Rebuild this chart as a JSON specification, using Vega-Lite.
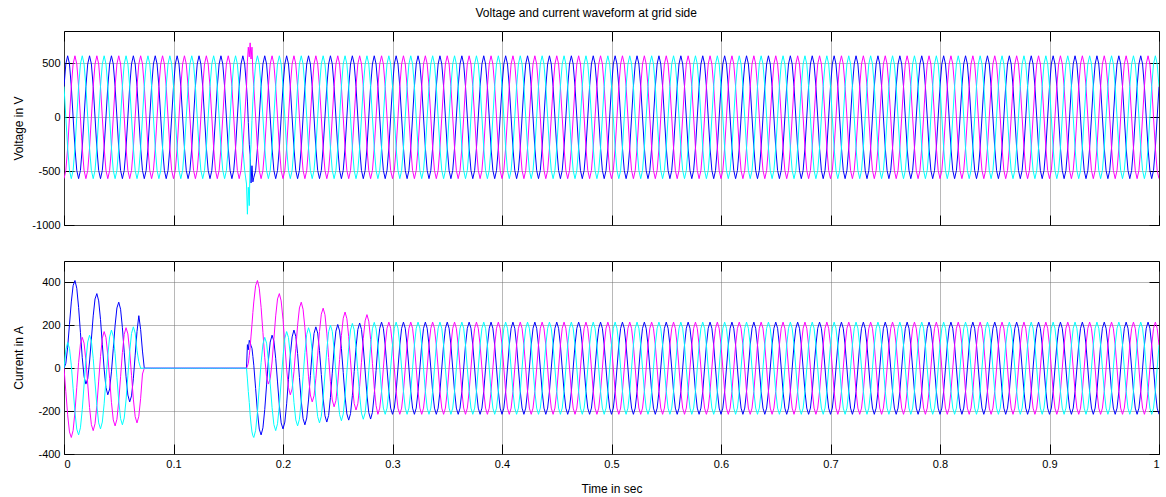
{
"$schema":"https://vega.github.io/schema/vega-lite/v6.json",
"padding":{"left":12,"top":7,"right":5,"bottom":5},
"title":{"text":"Voltage and current waveform at grid side","font":"Liberation Sans","fontSize":12,"fontWeight":"normal","color":"#000","offset":10,"anchor":"middle"},
"config":{
"view":{"stroke":"#000","strokeWidth":1},
"axis":{"labelFont":"Liberation Sans","labelFontSize":11,"labelColor":"#000","titleFont":"Liberation Sans","titleFontSize":12,"titleFontWeight":"normal","titleColor":"#000","domain":false,"tickColor":"#000","tickSize":-10,"tickWidth":1,"labelPadding":14,"gridColor":"#707070","gridDash":[1,1],"gridWidth":1,"labelExpr":"'' + datum.value"}
},
"data":{"values":[
{"t":0,"a":285,"b":-570,"c":285,"x":0,"y":0,"z":0},
{"t":0.00167,"a":494,"b":-494,"c":0,"x":23,"y":-109,"z":86},
{"t":0.00333,"a":570,"b":-285,"c":-285,"x":98,"y":-217,"z":120},
{"t":0.005,"a":494,"b":0,"c":-494,"x":204,"y":-297,"z":93},
{"t":0.00667,"a":285,"b":285,"c":-570,"x":309,"y":-323,"z":14},
{"t":0.00833,"a":0,"b":494,"c":-494,"x":385,"y":-290,"z":-95},
{"t":0.01,"a":-285,"b":570,"c":-285,"x":409,"y":-204,"z":-204},
{"t":0.01167,"a":-494,"b":494,"c":0,"x":373,"y":-89,"z":-284},
{"t":0.01333,"a":-570,"b":285,"c":285,"x":284,"y":26,"z":-311},
{"t":0.015,"a":-494,"b":0,"c":494,"x":167,"y":112,"z":-278},
{"t":0.01667,"a":-285,"b":-285,"c":570,"x":49,"y":144,"z":-193},
{"t":0.01833,"a":0,"b":-494,"c":494,"x":-39,"y":117,"z":-78},
{"t":0.02,"a":285,"b":-570,"c":285,"x":-74,"y":37,"z":37},
{"t":0.02167,"a":494,"b":-494,"c":0,"x":-49,"y":-73,"z":122},
{"t":0.02333,"a":570,"b":-285,"c":-285,"x":29,"y":-183,"z":154},
{"t":0.025,"a":494,"b":0,"c":-494,"x":136,"y":-263,"z":127},
{"t":0.02667,"a":285,"b":285,"c":-570,"x":244,"y":-291,"z":46},
{"t":0.02833,"a":0,"b":494,"c":-494,"x":323,"y":-259,"z":-64},
{"t":0.03,"a":-285,"b":570,"c":-285,"x":348,"y":-174,"z":-174},
{"t":0.03167,"a":-494,"b":494,"c":0,"x":314,"y":-60,"z":-255},
{"t":0.03333,"a":-570,"b":285,"c":285,"x":228,"y":54,"z":-283},
{"t":0.035,"a":-494,"b":0,"c":494,"x":112,"y":139,"z":-251},
{"t":0.03667,"a":-285,"b":-285,"c":570,"x":-4,"y":171,"z":-166},
{"t":0.03833,"a":0,"b":-494,"c":494,"x":-90,"y":143,"z":-52},
{"t":0.04,"a":285,"b":-570,"c":285,"x":-124,"y":61,"z":61},
{"t":0.04167,"a":494,"b":-494,"c":0,"x":-97,"y":-49,"z":146},
{"t":0.04333,"a":570,"b":-285,"c":-285,"x":-17,"y":-159,"z":178},
{"t":0.045,"a":494,"b":0,"c":-494,"x":91,"y":-241,"z":149},
{"t":0.04667,"a":285,"b":285,"c":-570,"x":200,"y":-269,"z":68},
{"t":0.04833,"a":0,"b":494,"c":-494,"x":281,"y":-238,"z":-43},
{"t":0.05,"a":-285,"b":570,"c":-285,"x":308,"y":-153,"z":-153},
{"t":0.05167,"a":-494,"b":494,"c":0,"x":275,"y":-40,"z":-235},
{"t":0.05333,"a":-570,"b":285,"c":285,"x":189,"y":73,"z":-264},
{"t":0.055,"a":-494,"b":0,"c":494,"x":75,"y":158,"z":-232},
{"t":0.05667,"a":-285,"b":-285,"c":570,"x":-40,"y":189,"z":-148},
{"t":0.05833,"a":0,"b":-494,"c":494,"x":-125,"y":160,"z":-35},
{"t":0.06,"a":285,"b":-570,"c":285,"x":-157,"y":78,"z":78},
{"t":0.06167,"a":494,"b":-494,"c":0,"x":-129,"y":-33,"z":162},
{"t":0.06333,"a":570,"b":-285,"c":-285,"x":-49,"y":-144,"z":193},
{"t":0.065,"a":494,"b":0,"c":-494,"x":61,"y":-226,"z":164},
{"t":0.06667,"a":285,"b":285,"c":-570,"x":171,"y":-255,"z":82},
{"t":0.06833,"a":0,"b":494,"c":-494,"x":245,"y":-224,"z":30},
{"t":0.07,"a":-285,"b":570,"c":-285,"x":180,"y":-140,"z":0},
{"t":0.07167,"a":-494,"b":494,"c":0,"x":80,"y":-27,"z":0},
{"t":0.07333,"a":-570,"b":285,"c":285,"x":0,"y":0,"z":0},
{"t":0.075,"a":-494,"b":0,"c":494,"x":0,"y":0,"z":0},
{"t":0.07667,"a":-285,"b":-285,"c":570,"x":0,"y":0,"z":0},
{"t":0.07833,"a":0,"b":-494,"c":494,"x":0,"y":0,"z":0},
{"t":0.08,"a":285,"b":-570,"c":285,"x":0,"y":0,"z":0},
{"t":0.08167,"a":494,"b":-494,"c":0,"x":0,"y":0,"z":0},
{"t":0.08333,"a":570,"b":-285,"c":-285,"x":0,"y":0,"z":0},
{"t":0.085,"a":494,"b":0,"c":-494,"x":0,"y":0,"z":0},
{"t":0.08667,"a":285,"b":285,"c":-570,"x":0,"y":0,"z":0},
{"t":0.08833,"a":0,"b":494,"c":-494,"x":0,"y":0,"z":0},
{"t":0.09,"a":-285,"b":570,"c":-285,"x":0,"y":0,"z":0},
{"t":0.09167,"a":-494,"b":494,"c":0,"x":0,"y":0,"z":0},
{"t":0.09333,"a":-570,"b":285,"c":285,"x":0,"y":0,"z":0},
{"t":0.095,"a":-494,"b":0,"c":494,"x":0,"y":0,"z":0},
{"t":0.09667,"a":-285,"b":-285,"c":570,"x":0,"y":0,"z":0},
{"t":0.09833,"a":0,"b":-494,"c":494,"x":0,"y":0,"z":0},
{"t":0.1,"a":285,"b":-570,"c":285,"x":0,"y":0,"z":0},
{"t":0.10167,"a":494,"b":-494,"c":0,"x":0,"y":0,"z":0},
{"t":0.10333,"a":570,"b":-285,"c":-285,"x":0,"y":0,"z":0},
{"t":0.105,"a":494,"b":0,"c":-494,"x":0,"y":0,"z":0},
{"t":0.10667,"a":285,"b":285,"c":-570,"x":0,"y":0,"z":0},
{"t":0.10833,"a":0,"b":494,"c":-494,"x":0,"y":0,"z":0},
{"t":0.11,"a":-285,"b":570,"c":-285,"x":0,"y":0,"z":0},
{"t":0.11167,"a":-494,"b":494,"c":0,"x":0,"y":0,"z":0},
{"t":0.11333,"a":-570,"b":285,"c":285,"x":0,"y":0,"z":0},
{"t":0.115,"a":-494,"b":0,"c":494,"x":0,"y":0,"z":0},
{"t":0.11667,"a":-285,"b":-285,"c":570,"x":0,"y":0,"z":0},
{"t":0.11833,"a":0,"b":-494,"c":494,"x":0,"y":0,"z":0},
{"t":0.12,"a":285,"b":-570,"c":285,"x":0,"y":0,"z":0},
{"t":0.12167,"a":494,"b":-494,"c":0,"x":0,"y":0,"z":0},
{"t":0.12333,"a":570,"b":-285,"c":-285,"x":0,"y":0,"z":0},
{"t":0.125,"a":494,"b":0,"c":-494,"x":0,"y":0,"z":0},
{"t":0.12667,"a":285,"b":285,"c":-570,"x":0,"y":0,"z":0},
{"t":0.12833,"a":0,"b":494,"c":-494,"x":0,"y":0,"z":0},
{"t":0.13,"a":-285,"b":570,"c":-285,"x":0,"y":0,"z":0},
{"t":0.13167,"a":-494,"b":494,"c":0,"x":0,"y":0,"z":0},
{"t":0.13333,"a":-570,"b":285,"c":285,"x":0,"y":0,"z":0},
{"t":0.135,"a":-494,"b":0,"c":494,"x":0,"y":0,"z":0},
{"t":0.13667,"a":-285,"b":-285,"c":570,"x":0,"y":0,"z":0},
{"t":0.13833,"a":0,"b":-494,"c":494,"x":0,"y":0,"z":0},
{"t":0.14,"a":285,"b":-570,"c":285,"x":0,"y":0,"z":0},
{"t":0.14167,"a":494,"b":-494,"c":0,"x":0,"y":0,"z":0},
{"t":0.14333,"a":570,"b":-285,"c":-285,"x":0,"y":0,"z":0},
{"t":0.145,"a":494,"b":0,"c":-494,"x":0,"y":0,"z":0},
{"t":0.14667,"a":285,"b":285,"c":-570,"x":0,"y":0,"z":0},
{"t":0.14833,"a":0,"b":494,"c":-494,"x":0,"y":0,"z":0},
{"t":0.15,"a":-285,"b":570,"c":-285,"x":0,"y":0,"z":0},
{"t":0.15167,"a":-494,"b":494,"c":0,"x":0,"y":0,"z":0},
{"t":0.15333,"a":-570,"b":285,"c":285,"x":0,"y":0,"z":0},
{"t":0.155,"a":-494,"b":0,"c":494,"x":0,"y":0,"z":0},
{"t":0.15667,"a":-285,"b":-285,"c":570,"x":0,"y":0,"z":0},
{"t":0.15833,"a":0,"b":-494,"c":494,"x":0,"y":0,"z":0},
{"t":0.16,"a":285,"b":-570,"c":285,"x":0,"y":0,"z":0},
{"t":0.16167,"a":494,"b":-494,"c":0,"x":0,"y":0,"z":0},
{"t":0.16333,"a":570,"b":-285,"c":-285,"x":0,"y":0,"z":0},
{"t":0.165,"a":494,"b":0,"c":-494,"x":0,"y":0,"z":0},
{"t":0.16667,"a":285,"b":285,"c":-620,"x":0,"y":0,"z":0},
{"t":0.1675,"a":150,"b":520,"c":-900,"x":110,"y":10,"z":-50},
{"t":0.16833,"a":-50,"b":650,"c":-650,"x":86,"y":23,"z":-109},
{"t":0.1692,"a":-250,"b":560,"c":-820,"x":130,"y":60,"z":-160},
{"t":0.17,"a":-350,"b":690,"c":-400,"x":120,"y":98,"z":-217},
{"t":0.1708,"a":-610,"b":540,"c":-250,"x":105,"y":150,"z":-260},
{"t":0.17167,"a":-450,"b":650,"c":-30,"x":93,"y":204,"z":-297},
{"t":0.1725,"a":-600,"b":420,"c":150,"x":55,"y":260,"z":-315},
{"t":0.17333,"a":-560,"b":285,"c":285,"x":14,"y":309,"z":-323},
{"t":0.175,"a":-494,"b":0,"c":494,"x":-95,"y":385,"z":-290},
{"t":0.17667,"a":-285,"b":-285,"c":570,"x":-204,"y":409,"z":-204},
{"t":0.17833,"a":0,"b":-494,"c":494,"x":-284,"y":373,"z":-89},
{"t":0.18,"a":285,"b":-570,"c":285,"x":-311,"y":284,"z":26},
{"t":0.18167,"a":494,"b":-494,"c":0,"x":-278,"y":167,"z":112},
{"t":0.18333,"a":570,"b":-285,"c":-285,"x":-193,"y":49,"z":144},
{"t":0.185,"a":494,"b":0,"c":-494,"x":-78,"y":-39,"z":117},
{"t":0.18667,"a":285,"b":285,"c":-570,"x":37,"y":-74,"z":37},
{"t":0.18833,"a":0,"b":494,"c":-494,"x":122,"y":-49,"z":-73},
{"t":0.19,"a":-285,"b":570,"c":-285,"x":154,"y":29,"z":-183},
{"t":0.19167,"a":-494,"b":494,"c":0,"x":127,"y":136,"z":-263},
{"t":0.19333,"a":-570,"b":285,"c":285,"x":46,"y":244,"z":-291},
{"t":0.195,"a":-494,"b":0,"c":494,"x":-64,"y":323,"z":-259},
{"t":0.19667,"a":-285,"b":-285,"c":570,"x":-174,"y":348,"z":-174},
{"t":0.19833,"a":0,"b":-494,"c":494,"x":-255,"y":314,"z":-60},
{"t":0.2,"a":285,"b":-570,"c":285,"x":-283,"y":228,"z":54},
{"t":0.20167,"a":494,"b":-494,"c":0,"x":-251,"y":112,"z":139},
{"t":0.20333,"a":570,"b":-285,"c":-285,"x":-166,"y":-4,"z":171},
{"t":0.205,"a":494,"b":0,"c":-494,"x":-52,"y":-90,"z":143},
{"t":0.20667,"a":285,"b":285,"c":-570,"x":61,"y":-124,"z":61},
{"t":0.20833,"a":0,"b":494,"c":-494,"x":146,"y":-97,"z":-49},
{"t":0.21,"a":-285,"b":570,"c":-285,"x":178,"y":-17,"z":-159},
{"t":0.21167,"a":-494,"b":494,"c":0,"x":149,"y":91,"z":-241},
{"t":0.21333,"a":-570,"b":285,"c":285,"x":68,"y":200,"z":-269},
{"t":0.215,"a":-494,"b":0,"c":494,"x":-43,"y":281,"z":-238},
{"t":0.21667,"a":-285,"b":-285,"c":570,"x":-153,"y":308,"z":-153},
{"t":0.21833,"a":0,"b":-494,"c":494,"x":-235,"y":275,"z":-40},
{"t":0.22,"a":285,"b":-570,"c":285,"x":-264,"y":189,"z":73},
{"t":0.22167,"a":494,"b":-494,"c":0,"x":-232,"y":75,"z":158},
{"t":0.22333,"a":570,"b":-285,"c":-285,"x":-148,"y":-40,"z":189},
{"t":0.225,"a":494,"b":0,"c":-494,"x":-35,"y":-125,"z":160},
{"t":0.22667,"a":285,"b":285,"c":-570,"x":78,"y":-157,"z":78},
{"t":0.22833,"a":0,"b":494,"c":-494,"x":162,"y":-129,"z":-33},
{"t":0.23,"a":-285,"b":570,"c":-285,"x":193,"y":-49,"z":-144},
{"t":0.23167,"a":-494,"b":494,"c":0,"x":164,"y":61,"z":-226},
{"t":0.23333,"a":-570,"b":285,"c":285,"x":82,"y":171,"z":-255},
{"t":0.235,"a":-494,"b":0,"c":494,"x":-29,"y":252,"z":-224},
{"t":0.23667,"a":-285,"b":-285,"c":570,"x":-140,"y":280,"z":-140},
{"t":0.23833,"a":0,"b":-494,"c":494,"x":-222,"y":249,"z":-27},
{"t":0.24,"a":285,"b":-570,"c":285,"x":-251,"y":164,"z":86},
{"t":0.24167,"a":494,"b":-494,"c":0,"x":-220,"y":50,"z":170},
{"t":0.24333,"a":570,"b":-285,"c":-285,"x":-136,"y":-63,"z":201},
{"t":0.245,"a":494,"b":0,"c":-494,"x":-23,"y":-148,"z":172},
{"t":0.24667,"a":285,"b":285,"c":-570,"x":89,"y":-180,"z":89},
{"t":0.24833,"a":0,"b":494,"c":-494,"x":173,"y":-151,"z":-22},
{"t":0.25,"a":-285,"b":570,"c":-285,"x":204,"y":-69,"z":-133},
{"t":0.25167,"a":-494,"b":494,"c":0,"x":174,"y":41,"z":-216},
{"t":0.25333,"a":-570,"b":285,"c":285,"x":92,"y":152,"z":-245},
{"t":0.255,"a":-494,"b":0,"c":494,"x":-19,"y":233,"z":-214},
{"t":0.25667,"a":-285,"b":-285,"c":570,"x":-131,"y":262,"z":-131},
{"t":0.25833,"a":0,"b":-494,"c":494,"x":-213,"y":231,"z":-18},
{"t":0.26,"a":285,"b":-570,"c":285,"x":-242,"y":147,"z":95},
{"t":0.26167,"a":494,"b":-494,"c":0,"x":-212,"y":34,"z":178},
{"t":0.26333,"a":570,"b":-285,"c":-285,"x":-128,"y":-79,"z":209},
{"t":0.265,"a":494,"b":0,"c":-494,"x":-16,"y":-164,"z":179},
{"t":0.26667,"a":285,"b":285,"c":-570,"x":97,"y":-195,"z":97},
{"t":0.26833,"a":0,"b":494,"c":-494,"x":180,"y":-166,"z":-15},
{"t":0.27,"a":-285,"b":570,"c":-285,"x":211,"y":-84,"z":-126},
{"t":0.27167,"a":-494,"b":494,"c":0,"x":181,"y":28,"z":-209},
{"t":0.27333,"a":-570,"b":285,"c":285,"x":99,"y":139,"z":-238},
{"t":0.275,"a":-494,"b":0,"c":494,"x":-13,"y":221,"z":-208},
{"t":0.27667,"a":-285,"b":-285,"c":570,"x":-124,"y":250,"z":-124},
{"t":0.27833,"a":0,"b":-494,"c":494,"x":-207,"y":219,"z":-12},
{"t":0.28,"a":285,"b":-570,"c":285,"x":-237,"y":135,"z":100},
{"t":0.28167,"a":494,"b":-494,"c":0,"x":-206,"y":23,"z":184},
{"t":0.28333,"a":570,"b":-285,"c":-285,"x":-123,"y":-90,"z":214},
{"t":0.285,"a":494,"b":0,"c":-494,"x":-11,"y":-174,"z":184},
{"t":0.28667,"a":285,"b":285,"c":-570,"x":108,"y":-215,"z":108},
{"t":0.28833,"a":0,"b":494,"c":-494,"x":186,"y":-186,"z":0},
{"t":0.29,"a":-285,"b":570,"c":-285,"x":215,"y":-108,"z":-108},
{"t":0.29167,"a":-494,"b":494,"c":0,"x":186,"y":0,"z":-186},
{"t":0.29333,"a":-570,"b":285,"c":285,"x":108,"y":108,"z":-215},
{"t":0.295,"a":-494,"b":0,"c":494,"x":0,"y":186,"z":-186},
{"t":0.29667,"a":-285,"b":-285,"c":570,"x":-108,"y":215,"z":-108},
{"t":0.29833,"a":0,"b":-494,"c":494,"x":-186,"y":186,"z":0},
{"t":0.3,"a":285,"b":-570,"c":285,"x":-215,"y":108,"z":108},
{"t":0.30167,"a":494,"b":-494,"c":0,"x":-186,"y":0,"z":186},
{"t":0.30333,"a":570,"b":-285,"c":-285,"x":-108,"y":-108,"z":215},
{"t":0.305,"a":494,"b":0,"c":-494,"x":0,"y":-186,"z":186},
{"t":0.30667,"a":285,"b":285,"c":-570,"x":108,"y":-215,"z":108},
{"t":0.30833,"a":0,"b":494,"c":-494,"x":186,"y":-186,"z":0},
{"t":0.31,"a":-285,"b":570,"c":-285,"x":215,"y":-108,"z":-108},
{"t":0.31167,"a":-494,"b":494,"c":0,"x":186,"y":0,"z":-186},
{"t":0.31333,"a":-570,"b":285,"c":285,"x":108,"y":108,"z":-215},
{"t":0.315,"a":-494,"b":0,"c":494,"x":0,"y":186,"z":-186},
{"t":0.31667,"a":-285,"b":-285,"c":570,"x":-108,"y":215,"z":-108},
{"t":0.31833,"a":0,"b":-494,"c":494,"x":-186,"y":186,"z":0},
{"t":0.32,"a":285,"b":-570,"c":285,"x":-215,"y":108,"z":108},
{"t":0.32167,"a":494,"b":-494,"c":0,"x":-186,"y":0,"z":186},
{"t":0.32333,"a":570,"b":-285,"c":-285,"x":-108,"y":-108,"z":215},
{"t":0.325,"a":494,"b":0,"c":-494,"x":0,"y":-186,"z":186},
{"t":0.32667,"a":285,"b":285,"c":-570,"x":108,"y":-215,"z":108},
{"t":0.32833,"a":0,"b":494,"c":-494,"x":186,"y":-186,"z":0},
{"t":0.33,"a":-285,"b":570,"c":-285,"x":215,"y":-108,"z":-108},
{"t":0.33167,"a":-494,"b":494,"c":0,"x":186,"y":0,"z":-186},
{"t":0.33333,"a":-570,"b":285,"c":285,"x":108,"y":108,"z":-215},
{"t":0.335,"a":-494,"b":0,"c":494,"x":0,"y":186,"z":-186},
{"t":0.33667,"a":-285,"b":-285,"c":570,"x":-108,"y":215,"z":-108},
{"t":0.33833,"a":0,"b":-494,"c":494,"x":-186,"y":186,"z":0},
{"t":0.34,"a":285,"b":-570,"c":285,"x":-215,"y":108,"z":108},
{"t":0.34167,"a":494,"b":-494,"c":0,"x":-186,"y":0,"z":186},
{"t":0.34333,"a":570,"b":-285,"c":-285,"x":-108,"y":-108,"z":215},
{"t":0.345,"a":494,"b":0,"c":-494,"x":0,"y":-186,"z":186},
{"t":0.34667,"a":285,"b":285,"c":-570,"x":108,"y":-215,"z":108},
{"t":0.34833,"a":0,"b":494,"c":-494,"x":186,"y":-186,"z":0},
{"t":0.35,"a":-285,"b":570,"c":-285,"x":215,"y":-108,"z":-108},
{"t":0.35167,"a":-494,"b":494,"c":0,"x":186,"y":0,"z":-186},
{"t":0.35333,"a":-570,"b":285,"c":285,"x":108,"y":108,"z":-215},
{"t":0.355,"a":-494,"b":0,"c":494,"x":0,"y":186,"z":-186},
{"t":0.35667,"a":-285,"b":-285,"c":570,"x":-108,"y":215,"z":-108},
{"t":0.35833,"a":0,"b":-494,"c":494,"x":-186,"y":186,"z":0},
{"t":0.36,"a":285,"b":-570,"c":285,"x":-215,"y":108,"z":108},
{"t":0.36167,"a":494,"b":-494,"c":0,"x":-186,"y":0,"z":186},
{"t":0.36333,"a":570,"b":-285,"c":-285,"x":-108,"y":-108,"z":215},
{"t":0.365,"a":494,"b":0,"c":-494,"x":0,"y":-186,"z":186},
{"t":0.36667,"a":285,"b":285,"c":-570,"x":108,"y":-215,"z":108},
{"t":0.36833,"a":0,"b":494,"c":-494,"x":186,"y":-186,"z":0},
{"t":0.37,"a":-285,"b":570,"c":-285,"x":215,"y":-108,"z":-108},
{"t":0.37167,"a":-494,"b":494,"c":0,"x":186,"y":0,"z":-186},
{"t":0.37333,"a":-570,"b":285,"c":285,"x":108,"y":108,"z":-215},
{"t":0.375,"a":-494,"b":0,"c":494,"x":0,"y":186,"z":-186},
{"t":0.37667,"a":-285,"b":-285,"c":570,"x":-108,"y":215,"z":-108},
{"t":0.37833,"a":0,"b":-494,"c":494,"x":-186,"y":186,"z":0},
{"t":0.38,"a":285,"b":-570,"c":285,"x":-215,"y":108,"z":108},
{"t":0.38167,"a":494,"b":-494,"c":0,"x":-186,"y":0,"z":186},
{"t":0.38333,"a":570,"b":-285,"c":-285,"x":-108,"y":-108,"z":215},
{"t":0.385,"a":494,"b":0,"c":-494,"x":0,"y":-186,"z":186},
{"t":0.38667,"a":285,"b":285,"c":-570,"x":108,"y":-215,"z":108},
{"t":0.38833,"a":0,"b":494,"c":-494,"x":186,"y":-186,"z":0},
{"t":0.39,"a":-285,"b":570,"c":-285,"x":215,"y":-108,"z":-108},
{"t":0.39167,"a":-494,"b":494,"c":0,"x":186,"y":0,"z":-186},
{"t":0.39333,"a":-570,"b":285,"c":285,"x":108,"y":108,"z":-215},
{"t":0.395,"a":-494,"b":0,"c":494,"x":0,"y":186,"z":-186},
{"t":0.39667,"a":-285,"b":-285,"c":570,"x":-108,"y":215,"z":-108},
{"t":0.39833,"a":0,"b":-494,"c":494,"x":-186,"y":186,"z":0},
{"t":0.4,"a":285,"b":-570,"c":285,"x":-215,"y":108,"z":108},
{"t":0.40167,"a":494,"b":-494,"c":0,"x":-186,"y":0,"z":186},
{"t":0.40333,"a":570,"b":-285,"c":-285,"x":-108,"y":-108,"z":215},
{"t":0.405,"a":494,"b":0,"c":-494,"x":0,"y":-186,"z":186},
{"t":0.40667,"a":285,"b":285,"c":-570,"x":108,"y":-215,"z":108},
{"t":0.40833,"a":0,"b":494,"c":-494,"x":186,"y":-186,"z":0},
{"t":0.41,"a":-285,"b":570,"c":-285,"x":215,"y":-108,"z":-108},
{"t":0.41167,"a":-494,"b":494,"c":0,"x":186,"y":0,"z":-186},
{"t":0.41333,"a":-570,"b":285,"c":285,"x":108,"y":108,"z":-215},
{"t":0.415,"a":-494,"b":0,"c":494,"x":0,"y":186,"z":-186},
{"t":0.41667,"a":-285,"b":-285,"c":570,"x":-108,"y":215,"z":-108},
{"t":0.41833,"a":0,"b":-494,"c":494,"x":-186,"y":186,"z":0},
{"t":0.42,"a":285,"b":-570,"c":285,"x":-215,"y":108,"z":108},
{"t":0.42167,"a":494,"b":-494,"c":0,"x":-186,"y":0,"z":186},
{"t":0.42333,"a":570,"b":-285,"c":-285,"x":-108,"y":-108,"z":215},
{"t":0.425,"a":494,"b":0,"c":-494,"x":0,"y":-186,"z":186},
{"t":0.42667,"a":285,"b":285,"c":-570,"x":108,"y":-215,"z":108},
{"t":0.42833,"a":0,"b":494,"c":-494,"x":186,"y":-186,"z":0},
{"t":0.43,"a":-285,"b":570,"c":-285,"x":215,"y":-108,"z":-108},
{"t":0.43167,"a":-494,"b":494,"c":0,"x":186,"y":0,"z":-186},
{"t":0.43333,"a":-570,"b":285,"c":285,"x":108,"y":108,"z":-215},
{"t":0.435,"a":-494,"b":0,"c":494,"x":0,"y":186,"z":-186},
{"t":0.43667,"a":-285,"b":-285,"c":570,"x":-108,"y":215,"z":-108},
{"t":0.43833,"a":0,"b":-494,"c":494,"x":-186,"y":186,"z":0},
{"t":0.44,"a":285,"b":-570,"c":285,"x":-215,"y":108,"z":108},
{"t":0.44167,"a":494,"b":-494,"c":0,"x":-186,"y":0,"z":186},
{"t":0.44333,"a":570,"b":-285,"c":-285,"x":-108,"y":-108,"z":215},
{"t":0.445,"a":494,"b":0,"c":-494,"x":0,"y":-186,"z":186},
{"t":0.44667,"a":285,"b":285,"c":-570,"x":108,"y":-215,"z":108},
{"t":0.44833,"a":0,"b":494,"c":-494,"x":186,"y":-186,"z":0},
{"t":0.45,"a":-285,"b":570,"c":-285,"x":215,"y":-108,"z":-108},
{"t":0.45167,"a":-494,"b":494,"c":0,"x":186,"y":0,"z":-186},
{"t":0.45333,"a":-570,"b":285,"c":285,"x":108,"y":108,"z":-215},
{"t":0.455,"a":-494,"b":0,"c":494,"x":0,"y":186,"z":-186},
{"t":0.45667,"a":-285,"b":-285,"c":570,"x":-108,"y":215,"z":-108},
{"t":0.45833,"a":0,"b":-494,"c":494,"x":-186,"y":186,"z":0},
{"t":0.46,"a":285,"b":-570,"c":285,"x":-215,"y":108,"z":108},
{"t":0.46167,"a":494,"b":-494,"c":0,"x":-186,"y":0,"z":186},
{"t":0.46333,"a":570,"b":-285,"c":-285,"x":-108,"y":-108,"z":215},
{"t":0.465,"a":494,"b":0,"c":-494,"x":0,"y":-186,"z":186},
{"t":0.46667,"a":285,"b":285,"c":-570,"x":108,"y":-215,"z":108},
{"t":0.46833,"a":0,"b":494,"c":-494,"x":186,"y":-186,"z":0},
{"t":0.47,"a":-285,"b":570,"c":-285,"x":215,"y":-108,"z":-108},
{"t":0.47167,"a":-494,"b":494,"c":0,"x":186,"y":0,"z":-186},
{"t":0.47333,"a":-570,"b":285,"c":285,"x":108,"y":108,"z":-215},
{"t":0.475,"a":-494,"b":0,"c":494,"x":0,"y":186,"z":-186},
{"t":0.47667,"a":-285,"b":-285,"c":570,"x":-108,"y":215,"z":-108},
{"t":0.47833,"a":0,"b":-494,"c":494,"x":-186,"y":186,"z":0},
{"t":0.48,"a":285,"b":-570,"c":285,"x":-215,"y":108,"z":108},
{"t":0.48167,"a":494,"b":-494,"c":0,"x":-186,"y":0,"z":186},
{"t":0.48333,"a":570,"b":-285,"c":-285,"x":-108,"y":-108,"z":215},
{"t":0.485,"a":494,"b":0,"c":-494,"x":0,"y":-186,"z":186},
{"t":0.48667,"a":285,"b":285,"c":-570,"x":108,"y":-215,"z":108},
{"t":0.48833,"a":0,"b":494,"c":-494,"x":186,"y":-186,"z":0},
{"t":0.49,"a":-285,"b":570,"c":-285,"x":215,"y":-108,"z":-108},
{"t":0.49167,"a":-494,"b":494,"c":0,"x":186,"y":0,"z":-186},
{"t":0.49333,"a":-570,"b":285,"c":285,"x":108,"y":108,"z":-215},
{"t":0.495,"a":-494,"b":0,"c":494,"x":0,"y":186,"z":-186},
{"t":0.49667,"a":-285,"b":-285,"c":570,"x":-108,"y":215,"z":-108},
{"t":0.49833,"a":0,"b":-494,"c":494,"x":-186,"y":186,"z":0},
{"t":0.5,"a":285,"b":-570,"c":285,"x":-215,"y":108,"z":108},
{"t":0.50167,"a":494,"b":-494,"c":0,"x":-186,"y":0,"z":186},
{"t":0.50333,"a":570,"b":-285,"c":-285,"x":-108,"y":-108,"z":215},
{"t":0.505,"a":494,"b":0,"c":-494,"x":0,"y":-186,"z":186},
{"t":0.50667,"a":285,"b":285,"c":-570,"x":108,"y":-215,"z":108},
{"t":0.50833,"a":0,"b":494,"c":-494,"x":186,"y":-186,"z":0},
{"t":0.51,"a":-285,"b":570,"c":-285,"x":215,"y":-108,"z":-108},
{"t":0.51167,"a":-494,"b":494,"c":0,"x":186,"y":0,"z":-186},
{"t":0.51333,"a":-570,"b":285,"c":285,"x":108,"y":108,"z":-215},
{"t":0.515,"a":-494,"b":0,"c":494,"x":0,"y":186,"z":-186},
{"t":0.51667,"a":-285,"b":-285,"c":570,"x":-108,"y":215,"z":-108},
{"t":0.51833,"a":0,"b":-494,"c":494,"x":-186,"y":186,"z":0},
{"t":0.52,"a":285,"b":-570,"c":285,"x":-215,"y":108,"z":108},
{"t":0.52167,"a":494,"b":-494,"c":0,"x":-186,"y":0,"z":186},
{"t":0.52333,"a":570,"b":-285,"c":-285,"x":-108,"y":-108,"z":215},
{"t":0.525,"a":494,"b":0,"c":-494,"x":0,"y":-186,"z":186},
{"t":0.52667,"a":285,"b":285,"c":-570,"x":108,"y":-215,"z":108},
{"t":0.52833,"a":0,"b":494,"c":-494,"x":186,"y":-186,"z":0},
{"t":0.53,"a":-285,"b":570,"c":-285,"x":215,"y":-108,"z":-108},
{"t":0.53167,"a":-494,"b":494,"c":0,"x":186,"y":0,"z":-186},
{"t":0.53333,"a":-570,"b":285,"c":285,"x":108,"y":108,"z":-215},
{"t":0.535,"a":-494,"b":0,"c":494,"x":0,"y":186,"z":-186},
{"t":0.53667,"a":-285,"b":-285,"c":570,"x":-108,"y":215,"z":-108},
{"t":0.53833,"a":0,"b":-494,"c":494,"x":-186,"y":186,"z":0},
{"t":0.54,"a":285,"b":-570,"c":285,"x":-215,"y":108,"z":108},
{"t":0.54167,"a":494,"b":-494,"c":0,"x":-186,"y":0,"z":186},
{"t":0.54333,"a":570,"b":-285,"c":-285,"x":-108,"y":-108,"z":215},
{"t":0.545,"a":494,"b":0,"c":-494,"x":0,"y":-186,"z":186},
{"t":0.54667,"a":285,"b":285,"c":-570,"x":108,"y":-215,"z":108},
{"t":0.54833,"a":0,"b":494,"c":-494,"x":186,"y":-186,"z":0},
{"t":0.55,"a":-285,"b":570,"c":-285,"x":215,"y":-108,"z":-108},
{"t":0.55167,"a":-494,"b":494,"c":0,"x":186,"y":0,"z":-186},
{"t":0.55333,"a":-570,"b":285,"c":285,"x":108,"y":108,"z":-215},
{"t":0.555,"a":-494,"b":0,"c":494,"x":0,"y":186,"z":-186},
{"t":0.55667,"a":-285,"b":-285,"c":570,"x":-108,"y":215,"z":-108},
{"t":0.55833,"a":0,"b":-494,"c":494,"x":-186,"y":186,"z":0},
{"t":0.56,"a":285,"b":-570,"c":285,"x":-215,"y":108,"z":108},
{"t":0.56167,"a":494,"b":-494,"c":0,"x":-186,"y":0,"z":186},
{"t":0.56333,"a":570,"b":-285,"c":-285,"x":-108,"y":-108,"z":215},
{"t":0.565,"a":494,"b":0,"c":-494,"x":0,"y":-186,"z":186},
{"t":0.56667,"a":285,"b":285,"c":-570,"x":108,"y":-215,"z":108},
{"t":0.56833,"a":0,"b":494,"c":-494,"x":186,"y":-186,"z":0},
{"t":0.57,"a":-285,"b":570,"c":-285,"x":215,"y":-108,"z":-108},
{"t":0.57167,"a":-494,"b":494,"c":0,"x":186,"y":0,"z":-186},
{"t":0.57333,"a":-570,"b":285,"c":285,"x":108,"y":108,"z":-215},
{"t":0.575,"a":-494,"b":0,"c":494,"x":0,"y":186,"z":-186},
{"t":0.57667,"a":-285,"b":-285,"c":570,"x":-108,"y":215,"z":-108},
{"t":0.57833,"a":0,"b":-494,"c":494,"x":-186,"y":186,"z":0},
{"t":0.58,"a":285,"b":-570,"c":285,"x":-215,"y":108,"z":108},
{"t":0.58167,"a":494,"b":-494,"c":0,"x":-186,"y":0,"z":186},
{"t":0.58333,"a":570,"b":-285,"c":-285,"x":-108,"y":-108,"z":215},
{"t":0.585,"a":494,"b":0,"c":-494,"x":0,"y":-186,"z":186},
{"t":0.58667,"a":285,"b":285,"c":-570,"x":108,"y":-215,"z":108},
{"t":0.58833,"a":0,"b":494,"c":-494,"x":186,"y":-186,"z":0},
{"t":0.59,"a":-285,"b":570,"c":-285,"x":215,"y":-108,"z":-108},
{"t":0.59167,"a":-494,"b":494,"c":0,"x":186,"y":0,"z":-186},
{"t":0.59333,"a":-570,"b":285,"c":285,"x":108,"y":108,"z":-215},
{"t":0.595,"a":-494,"b":0,"c":494,"x":0,"y":186,"z":-186},
{"t":0.59667,"a":-285,"b":-285,"c":570,"x":-108,"y":215,"z":-108},
{"t":0.59833,"a":0,"b":-494,"c":494,"x":-186,"y":186,"z":0},
{"t":0.6,"a":285,"b":-570,"c":285,"x":-215,"y":108,"z":108},
{"t":0.60167,"a":494,"b":-494,"c":0,"x":-186,"y":0,"z":186},
{"t":0.60333,"a":570,"b":-285,"c":-285,"x":-108,"y":-108,"z":215},
{"t":0.605,"a":494,"b":0,"c":-494,"x":0,"y":-186,"z":186},
{"t":0.60667,"a":285,"b":285,"c":-570,"x":108,"y":-215,"z":108},
{"t":0.60833,"a":0,"b":494,"c":-494,"x":186,"y":-186,"z":0},
{"t":0.61,"a":-285,"b":570,"c":-285,"x":215,"y":-108,"z":-108},
{"t":0.61167,"a":-494,"b":494,"c":0,"x":186,"y":0,"z":-186},
{"t":0.61333,"a":-570,"b":285,"c":285,"x":108,"y":108,"z":-215},
{"t":0.615,"a":-494,"b":0,"c":494,"x":0,"y":186,"z":-186},
{"t":0.61667,"a":-285,"b":-285,"c":570,"x":-108,"y":215,"z":-108},
{"t":0.61833,"a":0,"b":-494,"c":494,"x":-186,"y":186,"z":0},
{"t":0.62,"a":285,"b":-570,"c":285,"x":-215,"y":108,"z":108},
{"t":0.62167,"a":494,"b":-494,"c":0,"x":-186,"y":0,"z":186},
{"t":0.62333,"a":570,"b":-285,"c":-285,"x":-108,"y":-108,"z":215},
{"t":0.625,"a":494,"b":0,"c":-494,"x":0,"y":-186,"z":186},
{"t":0.62667,"a":285,"b":285,"c":-570,"x":108,"y":-215,"z":108},
{"t":0.62833,"a":0,"b":494,"c":-494,"x":186,"y":-186,"z":0},
{"t":0.63,"a":-285,"b":570,"c":-285,"x":215,"y":-108,"z":-108},
{"t":0.63167,"a":-494,"b":494,"c":0,"x":186,"y":0,"z":-186},
{"t":0.63333,"a":-570,"b":285,"c":285,"x":108,"y":108,"z":-215},
{"t":0.635,"a":-494,"b":0,"c":494,"x":0,"y":186,"z":-186},
{"t":0.63667,"a":-285,"b":-285,"c":570,"x":-108,"y":215,"z":-108},
{"t":0.63833,"a":0,"b":-494,"c":494,"x":-186,"y":186,"z":0},
{"t":0.64,"a":285,"b":-570,"c":285,"x":-215,"y":108,"z":108},
{"t":0.64167,"a":494,"b":-494,"c":0,"x":-186,"y":0,"z":186},
{"t":0.64333,"a":570,"b":-285,"c":-285,"x":-108,"y":-108,"z":215},
{"t":0.645,"a":494,"b":0,"c":-494,"x":0,"y":-186,"z":186},
{"t":0.64667,"a":285,"b":285,"c":-570,"x":108,"y":-215,"z":108},
{"t":0.64833,"a":0,"b":494,"c":-494,"x":186,"y":-186,"z":0},
{"t":0.65,"a":-285,"b":570,"c":-285,"x":215,"y":-108,"z":-108},
{"t":0.65167,"a":-494,"b":494,"c":0,"x":186,"y":0,"z":-186},
{"t":0.65333,"a":-570,"b":285,"c":285,"x":108,"y":108,"z":-215},
{"t":0.655,"a":-494,"b":0,"c":494,"x":0,"y":186,"z":-186},
{"t":0.65667,"a":-285,"b":-285,"c":570,"x":-108,"y":215,"z":-108},
{"t":0.65833,"a":0,"b":-494,"c":494,"x":-186,"y":186,"z":0},
{"t":0.66,"a":285,"b":-570,"c":285,"x":-215,"y":108,"z":108},
{"t":0.66167,"a":494,"b":-494,"c":0,"x":-186,"y":0,"z":186},
{"t":0.66333,"a":570,"b":-285,"c":-285,"x":-108,"y":-108,"z":215},
{"t":0.665,"a":494,"b":0,"c":-494,"x":0,"y":-186,"z":186},
{"t":0.66667,"a":285,"b":285,"c":-570,"x":108,"y":-215,"z":108},
{"t":0.66833,"a":0,"b":494,"c":-494,"x":186,"y":-186,"z":0},
{"t":0.67,"a":-285,"b":570,"c":-285,"x":215,"y":-108,"z":-108},
{"t":0.67167,"a":-494,"b":494,"c":0,"x":186,"y":0,"z":-186},
{"t":0.67333,"a":-570,"b":285,"c":285,"x":108,"y":108,"z":-215},
{"t":0.675,"a":-494,"b":0,"c":494,"x":0,"y":186,"z":-186},
{"t":0.67667,"a":-285,"b":-285,"c":570,"x":-108,"y":215,"z":-108},
{"t":0.67833,"a":0,"b":-494,"c":494,"x":-186,"y":186,"z":0},
{"t":0.68,"a":285,"b":-570,"c":285,"x":-215,"y":108,"z":108},
{"t":0.68167,"a":494,"b":-494,"c":0,"x":-186,"y":0,"z":186},
{"t":0.68333,"a":570,"b":-285,"c":-285,"x":-108,"y":-108,"z":215},
{"t":0.685,"a":494,"b":0,"c":-494,"x":0,"y":-186,"z":186},
{"t":0.68667,"a":285,"b":285,"c":-570,"x":108,"y":-215,"z":108},
{"t":0.68833,"a":0,"b":494,"c":-494,"x":186,"y":-186,"z":0},
{"t":0.69,"a":-285,"b":570,"c":-285,"x":215,"y":-108,"z":-108},
{"t":0.69167,"a":-494,"b":494,"c":0,"x":186,"y":0,"z":-186},
{"t":0.69333,"a":-570,"b":285,"c":285,"x":108,"y":108,"z":-215},
{"t":0.695,"a":-494,"b":0,"c":494,"x":0,"y":186,"z":-186},
{"t":0.69667,"a":-285,"b":-285,"c":570,"x":-108,"y":215,"z":-108},
{"t":0.69833,"a":0,"b":-494,"c":494,"x":-186,"y":186,"z":0},
{"t":0.7,"a":285,"b":-570,"c":285,"x":-215,"y":108,"z":108},
{"t":0.70167,"a":494,"b":-494,"c":0,"x":-186,"y":0,"z":186},
{"t":0.70333,"a":570,"b":-285,"c":-285,"x":-108,"y":-108,"z":215},
{"t":0.705,"a":494,"b":0,"c":-494,"x":0,"y":-186,"z":186},
{"t":0.70667,"a":285,"b":285,"c":-570,"x":108,"y":-215,"z":108},
{"t":0.70833,"a":0,"b":494,"c":-494,"x":186,"y":-186,"z":0},
{"t":0.71,"a":-285,"b":570,"c":-285,"x":215,"y":-108,"z":-108},
{"t":0.71167,"a":-494,"b":494,"c":0,"x":186,"y":0,"z":-186},
{"t":0.71333,"a":-570,"b":285,"c":285,"x":108,"y":108,"z":-215},
{"t":0.715,"a":-494,"b":0,"c":494,"x":0,"y":186,"z":-186},
{"t":0.71667,"a":-285,"b":-285,"c":570,"x":-108,"y":215,"z":-108},
{"t":0.71833,"a":0,"b":-494,"c":494,"x":-186,"y":186,"z":0},
{"t":0.72,"a":285,"b":-570,"c":285,"x":-215,"y":108,"z":108},
{"t":0.72167,"a":494,"b":-494,"c":0,"x":-186,"y":0,"z":186},
{"t":0.72333,"a":570,"b":-285,"c":-285,"x":-108,"y":-108,"z":215},
{"t":0.725,"a":494,"b":0,"c":-494,"x":0,"y":-186,"z":186},
{"t":0.72667,"a":285,"b":285,"c":-570,"x":108,"y":-215,"z":108},
{"t":0.72833,"a":0,"b":494,"c":-494,"x":186,"y":-186,"z":0},
{"t":0.73,"a":-285,"b":570,"c":-285,"x":215,"y":-108,"z":-108},
{"t":0.73167,"a":-494,"b":494,"c":0,"x":186,"y":0,"z":-186},
{"t":0.73333,"a":-570,"b":285,"c":285,"x":108,"y":108,"z":-215},
{"t":0.735,"a":-494,"b":0,"c":494,"x":0,"y":186,"z":-186},
{"t":0.73667,"a":-285,"b":-285,"c":570,"x":-108,"y":215,"z":-108},
{"t":0.73833,"a":0,"b":-494,"c":494,"x":-186,"y":186,"z":0},
{"t":0.74,"a":285,"b":-570,"c":285,"x":-215,"y":108,"z":108},
{"t":0.74167,"a":494,"b":-494,"c":0,"x":-186,"y":0,"z":186},
{"t":0.74333,"a":570,"b":-285,"c":-285,"x":-108,"y":-108,"z":215},
{"t":0.745,"a":494,"b":0,"c":-494,"x":0,"y":-186,"z":186},
{"t":0.74667,"a":285,"b":285,"c":-570,"x":108,"y":-215,"z":108},
{"t":0.74833,"a":0,"b":494,"c":-494,"x":186,"y":-186,"z":0},
{"t":0.75,"a":-285,"b":570,"c":-285,"x":215,"y":-108,"z":-108},
{"t":0.75167,"a":-494,"b":494,"c":0,"x":186,"y":0,"z":-186},
{"t":0.75333,"a":-570,"b":285,"c":285,"x":108,"y":108,"z":-215},
{"t":0.755,"a":-494,"b":0,"c":494,"x":0,"y":186,"z":-186},
{"t":0.75667,"a":-285,"b":-285,"c":570,"x":-108,"y":215,"z":-108},
{"t":0.75833,"a":0,"b":-494,"c":494,"x":-186,"y":186,"z":0},
{"t":0.76,"a":285,"b":-570,"c":285,"x":-215,"y":108,"z":108},
{"t":0.76167,"a":494,"b":-494,"c":0,"x":-186,"y":0,"z":186},
{"t":0.76333,"a":570,"b":-285,"c":-285,"x":-108,"y":-108,"z":215},
{"t":0.765,"a":494,"b":0,"c":-494,"x":0,"y":-186,"z":186},
{"t":0.76667,"a":285,"b":285,"c":-570,"x":108,"y":-215,"z":108},
{"t":0.76833,"a":0,"b":494,"c":-494,"x":186,"y":-186,"z":0},
{"t":0.77,"a":-285,"b":570,"c":-285,"x":215,"y":-108,"z":-108},
{"t":0.77167,"a":-494,"b":494,"c":0,"x":186,"y":0,"z":-186},
{"t":0.77333,"a":-570,"b":285,"c":285,"x":108,"y":108,"z":-215},
{"t":0.775,"a":-494,"b":0,"c":494,"x":0,"y":186,"z":-186},
{"t":0.77667,"a":-285,"b":-285,"c":570,"x":-108,"y":215,"z":-108},
{"t":0.77833,"a":0,"b":-494,"c":494,"x":-186,"y":186,"z":0},
{"t":0.78,"a":285,"b":-570,"c":285,"x":-215,"y":108,"z":108},
{"t":0.78167,"a":494,"b":-494,"c":0,"x":-186,"y":0,"z":186},
{"t":0.78333,"a":570,"b":-285,"c":-285,"x":-108,"y":-108,"z":215},
{"t":0.785,"a":494,"b":0,"c":-494,"x":0,"y":-186,"z":186},
{"t":0.78667,"a":285,"b":285,"c":-570,"x":108,"y":-215,"z":108},
{"t":0.78833,"a":0,"b":494,"c":-494,"x":186,"y":-186,"z":0},
{"t":0.79,"a":-285,"b":570,"c":-285,"x":215,"y":-108,"z":-108},
{"t":0.79167,"a":-494,"b":494,"c":0,"x":186,"y":0,"z":-186},
{"t":0.79333,"a":-570,"b":285,"c":285,"x":108,"y":108,"z":-215},
{"t":0.795,"a":-494,"b":0,"c":494,"x":0,"y":186,"z":-186},
{"t":0.79667,"a":-285,"b":-285,"c":570,"x":-108,"y":215,"z":-108},
{"t":0.79833,"a":0,"b":-494,"c":494,"x":-186,"y":186,"z":0},
{"t":0.8,"a":285,"b":-570,"c":285,"x":-215,"y":108,"z":108},
{"t":0.80167,"a":494,"b":-494,"c":0,"x":-186,"y":0,"z":186},
{"t":0.80333,"a":570,"b":-285,"c":-285,"x":-108,"y":-108,"z":215},
{"t":0.805,"a":494,"b":0,"c":-494,"x":0,"y":-186,"z":186},
{"t":0.80667,"a":285,"b":285,"c":-570,"x":108,"y":-215,"z":108},
{"t":0.80833,"a":0,"b":494,"c":-494,"x":186,"y":-186,"z":0},
{"t":0.81,"a":-285,"b":570,"c":-285,"x":215,"y":-108,"z":-108},
{"t":0.81167,"a":-494,"b":494,"c":0,"x":186,"y":0,"z":-186},
{"t":0.81333,"a":-570,"b":285,"c":285,"x":108,"y":108,"z":-215},
{"t":0.815,"a":-494,"b":0,"c":494,"x":0,"y":186,"z":-186},
{"t":0.81667,"a":-285,"b":-285,"c":570,"x":-108,"y":215,"z":-108},
{"t":0.81833,"a":0,"b":-494,"c":494,"x":-186,"y":186,"z":0},
{"t":0.82,"a":285,"b":-570,"c":285,"x":-215,"y":108,"z":108},
{"t":0.82167,"a":494,"b":-494,"c":0,"x":-186,"y":0,"z":186},
{"t":0.82333,"a":570,"b":-285,"c":-285,"x":-108,"y":-108,"z":215},
{"t":0.825,"a":494,"b":0,"c":-494,"x":0,"y":-186,"z":186},
{"t":0.82667,"a":285,"b":285,"c":-570,"x":108,"y":-215,"z":108},
{"t":0.82833,"a":0,"b":494,"c":-494,"x":186,"y":-186,"z":0},
{"t":0.83,"a":-285,"b":570,"c":-285,"x":215,"y":-108,"z":-108},
{"t":0.83167,"a":-494,"b":494,"c":0,"x":186,"y":0,"z":-186},
{"t":0.83333,"a":-570,"b":285,"c":285,"x":108,"y":108,"z":-215},
{"t":0.835,"a":-494,"b":0,"c":494,"x":0,"y":186,"z":-186},
{"t":0.83667,"a":-285,"b":-285,"c":570,"x":-108,"y":215,"z":-108},
{"t":0.83833,"a":0,"b":-494,"c":494,"x":-186,"y":186,"z":0},
{"t":0.84,"a":285,"b":-570,"c":285,"x":-215,"y":108,"z":108},
{"t":0.84167,"a":494,"b":-494,"c":0,"x":-186,"y":0,"z":186},
{"t":0.84333,"a":570,"b":-285,"c":-285,"x":-108,"y":-108,"z":215},
{"t":0.845,"a":494,"b":0,"c":-494,"x":0,"y":-186,"z":186},
{"t":0.84667,"a":285,"b":285,"c":-570,"x":108,"y":-215,"z":108},
{"t":0.84833,"a":0,"b":494,"c":-494,"x":186,"y":-186,"z":0},
{"t":0.85,"a":-285,"b":570,"c":-285,"x":215,"y":-108,"z":-108},
{"t":0.85167,"a":-494,"b":494,"c":0,"x":186,"y":0,"z":-186},
{"t":0.85333,"a":-570,"b":285,"c":285,"x":108,"y":108,"z":-215},
{"t":0.855,"a":-494,"b":0,"c":494,"x":0,"y":186,"z":-186},
{"t":0.85667,"a":-285,"b":-285,"c":570,"x":-108,"y":215,"z":-108},
{"t":0.85833,"a":0,"b":-494,"c":494,"x":-186,"y":186,"z":0},
{"t":0.86,"a":285,"b":-570,"c":285,"x":-215,"y":108,"z":108},
{"t":0.86167,"a":494,"b":-494,"c":0,"x":-186,"y":0,"z":186},
{"t":0.86333,"a":570,"b":-285,"c":-285,"x":-108,"y":-108,"z":215},
{"t":0.865,"a":494,"b":0,"c":-494,"x":0,"y":-186,"z":186},
{"t":0.86667,"a":285,"b":285,"c":-570,"x":108,"y":-215,"z":108},
{"t":0.86833,"a":0,"b":494,"c":-494,"x":186,"y":-186,"z":0},
{"t":0.87,"a":-285,"b":570,"c":-285,"x":215,"y":-108,"z":-108},
{"t":0.87167,"a":-494,"b":494,"c":0,"x":186,"y":0,"z":-186},
{"t":0.87333,"a":-570,"b":285,"c":285,"x":108,"y":108,"z":-215},
{"t":0.875,"a":-494,"b":0,"c":494,"x":0,"y":186,"z":-186},
{"t":0.87667,"a":-285,"b":-285,"c":570,"x":-108,"y":215,"z":-108},
{"t":0.87833,"a":0,"b":-494,"c":494,"x":-186,"y":186,"z":0},
{"t":0.88,"a":285,"b":-570,"c":285,"x":-215,"y":108,"z":108},
{"t":0.88167,"a":494,"b":-494,"c":0,"x":-186,"y":0,"z":186},
{"t":0.88333,"a":570,"b":-285,"c":-285,"x":-108,"y":-108,"z":215},
{"t":0.885,"a":494,"b":0,"c":-494,"x":0,"y":-186,"z":186},
{"t":0.88667,"a":285,"b":285,"c":-570,"x":108,"y":-215,"z":108},
{"t":0.88833,"a":0,"b":494,"c":-494,"x":186,"y":-186,"z":0},
{"t":0.89,"a":-285,"b":570,"c":-285,"x":215,"y":-108,"z":-108},
{"t":0.89167,"a":-494,"b":494,"c":0,"x":186,"y":0,"z":-186},
{"t":0.89333,"a":-570,"b":285,"c":285,"x":108,"y":108,"z":-215},
{"t":0.895,"a":-494,"b":0,"c":494,"x":0,"y":186,"z":-186},
{"t":0.89667,"a":-285,"b":-285,"c":570,"x":-108,"y":215,"z":-108},
{"t":0.89833,"a":0,"b":-494,"c":494,"x":-186,"y":186,"z":0},
{"t":0.9,"a":285,"b":-570,"c":285,"x":-215,"y":108,"z":108},
{"t":0.90167,"a":494,"b":-494,"c":0,"x":-186,"y":0,"z":186},
{"t":0.90333,"a":570,"b":-285,"c":-285,"x":-108,"y":-108,"z":215},
{"t":0.905,"a":494,"b":0,"c":-494,"x":0,"y":-186,"z":186},
{"t":0.90667,"a":285,"b":285,"c":-570,"x":108,"y":-215,"z":108},
{"t":0.90833,"a":0,"b":494,"c":-494,"x":186,"y":-186,"z":0},
{"t":0.91,"a":-285,"b":570,"c":-285,"x":215,"y":-108,"z":-108},
{"t":0.91167,"a":-494,"b":494,"c":0,"x":186,"y":0,"z":-186},
{"t":0.91333,"a":-570,"b":285,"c":285,"x":108,"y":108,"z":-215},
{"t":0.915,"a":-494,"b":0,"c":494,"x":0,"y":186,"z":-186},
{"t":0.91667,"a":-285,"b":-285,"c":570,"x":-108,"y":215,"z":-108},
{"t":0.91833,"a":0,"b":-494,"c":494,"x":-186,"y":186,"z":0},
{"t":0.92,"a":285,"b":-570,"c":285,"x":-215,"y":108,"z":108},
{"t":0.92167,"a":494,"b":-494,"c":0,"x":-186,"y":0,"z":186},
{"t":0.92333,"a":570,"b":-285,"c":-285,"x":-108,"y":-108,"z":215},
{"t":0.925,"a":494,"b":0,"c":-494,"x":0,"y":-186,"z":186},
{"t":0.92667,"a":285,"b":285,"c":-570,"x":108,"y":-215,"z":108},
{"t":0.92833,"a":0,"b":494,"c":-494,"x":186,"y":-186,"z":0},
{"t":0.93,"a":-285,"b":570,"c":-285,"x":215,"y":-108,"z":-108},
{"t":0.93167,"a":-494,"b":494,"c":0,"x":186,"y":0,"z":-186},
{"t":0.93333,"a":-570,"b":285,"c":285,"x":108,"y":108,"z":-215},
{"t":0.935,"a":-494,"b":0,"c":494,"x":0,"y":186,"z":-186},
{"t":0.93667,"a":-285,"b":-285,"c":570,"x":-108,"y":215,"z":-108},
{"t":0.93833,"a":0,"b":-494,"c":494,"x":-186,"y":186,"z":0},
{"t":0.94,"a":285,"b":-570,"c":285,"x":-215,"y":108,"z":108},
{"t":0.94167,"a":494,"b":-494,"c":0,"x":-186,"y":0,"z":186},
{"t":0.94333,"a":570,"b":-285,"c":-285,"x":-108,"y":-108,"z":215},
{"t":0.945,"a":494,"b":0,"c":-494,"x":0,"y":-186,"z":186},
{"t":0.94667,"a":285,"b":285,"c":-570,"x":108,"y":-215,"z":108},
{"t":0.94833,"a":0,"b":494,"c":-494,"x":186,"y":-186,"z":0},
{"t":0.95,"a":-285,"b":570,"c":-285,"x":215,"y":-108,"z":-108},
{"t":0.95167,"a":-494,"b":494,"c":0,"x":186,"y":0,"z":-186},
{"t":0.95333,"a":-570,"b":285,"c":285,"x":108,"y":108,"z":-215},
{"t":0.955,"a":-494,"b":0,"c":494,"x":0,"y":186,"z":-186},
{"t":0.95667,"a":-285,"b":-285,"c":570,"x":-108,"y":215,"z":-108},
{"t":0.95833,"a":0,"b":-494,"c":494,"x":-186,"y":186,"z":0},
{"t":0.96,"a":285,"b":-570,"c":285,"x":-215,"y":108,"z":108},
{"t":0.96167,"a":494,"b":-494,"c":0,"x":-186,"y":0,"z":186},
{"t":0.96333,"a":570,"b":-285,"c":-285,"x":-108,"y":-108,"z":215},
{"t":0.965,"a":494,"b":0,"c":-494,"x":0,"y":-186,"z":186},
{"t":0.96667,"a":285,"b":285,"c":-570,"x":108,"y":-215,"z":108},
{"t":0.96833,"a":0,"b":494,"c":-494,"x":186,"y":-186,"z":0},
{"t":0.97,"a":-285,"b":570,"c":-285,"x":215,"y":-108,"z":-108},
{"t":0.97167,"a":-494,"b":494,"c":0,"x":186,"y":0,"z":-186},
{"t":0.97333,"a":-570,"b":285,"c":285,"x":108,"y":108,"z":-215},
{"t":0.975,"a":-494,"b":0,"c":494,"x":0,"y":186,"z":-186},
{"t":0.97667,"a":-285,"b":-285,"c":570,"x":-108,"y":215,"z":-108},
{"t":0.97833,"a":0,"b":-494,"c":494,"x":-186,"y":186,"z":0},
{"t":0.98,"a":285,"b":-570,"c":285,"x":-215,"y":108,"z":108},
{"t":0.98167,"a":494,"b":-494,"c":0,"x":-186,"y":0,"z":186},
{"t":0.98333,"a":570,"b":-285,"c":-285,"x":-108,"y":-108,"z":215},
{"t":0.985,"a":494,"b":0,"c":-494,"x":0,"y":-186,"z":186},
{"t":0.98667,"a":285,"b":285,"c":-570,"x":108,"y":-215,"z":108},
{"t":0.98833,"a":0,"b":494,"c":-494,"x":186,"y":-186,"z":0},
{"t":0.99,"a":-285,"b":570,"c":-285,"x":215,"y":-108,"z":-108},
{"t":0.99167,"a":-494,"b":494,"c":0,"x":186,"y":0,"z":-186},
{"t":0.99333,"a":-570,"b":285,"c":285,"x":108,"y":108,"z":-215},
{"t":0.995,"a":-494,"b":0,"c":494,"x":0,"y":186,"z":-186},
{"t":0.99667,"a":-285,"b":-285,"c":570,"x":-108,"y":215,"z":-108},
{"t":0.99833,"a":0,"b":-494,"c":494,"x":-186,"y":186,"z":0},
{"t":1,"a":285,"b":-570,"c":285,"x":-215,"y":108,"z":108}
]},
"spacing":29,
"vconcat":[
{"width":1095,"height":194,
"layer":[
{"transform":[{"fold":["a","b","c"],"as":["s","v"]}],
"mark":{"type":"line","strokeWidth":1,"clip":true},
"encoding":{
"x":{"field":"t","type":"quantitative","scale":{"domain":[0,1],"nice":false,"zero":false},"axis":{"orient":"bottom","values":[0,0.1,0.2,0.3,0.4,0.5,0.6,0.7,0.8,0.9,1],"labels":false,"title":null,"grid":true}},
"y":{"field":"v","type":"quantitative","scale":{"domain":[-1000,800],"nice":false,"zero":false},"axis":{"orient":"left","values":[-1000,-500,0,500],"title":"Voltage in V","titlePadding":6,"grid":true}},
"color":{"field":"s","type":"nominal","scale":{"domain":["a","b","c","x","y","z"],"range":["#0000ff","#ff00ff","#00ffff","#0000ff","#ff00ff","#00ffff"]},"legend":null}}},
{"data":{"values":[{"t":0,"v":0}]},
"mark":{"type":"point","opacity":0},
"encoding":{
"x":{"field":"t","type":"quantitative","scale":{"domain":[0,1],"nice":false,"zero":false},"axis":{"orient":"top","values":[0,0.1,0.2,0.3,0.4,0.5,0.6,0.7,0.8,0.9,1],"labels":false,"title":null,"grid":false}},
"y":{"field":"v","type":"quantitative","scale":{"domain":[-1000,800],"nice":false,"zero":false},"axis":{"orient":"right","values":[-1000,-500,0,500],"labels":false,"title":null,"grid":false}}}}
]},
{"width":1095,"height":193,
"layer":[
{"transform":[{"fold":["x","y","z"],"as":["s","v"]}],
"mark":{"type":"line","strokeWidth":1,"clip":true},
"encoding":{
"x":{"field":"t","type":"quantitative","scale":{"domain":[0,1],"nice":false,"zero":false},"axis":{"orient":"bottom","values":[0,0.1,0.2,0.3,0.4,0.5,0.6,0.7,0.8,0.9,1],"title":"Time in sec","titlePadding":14,"grid":true}},
"y":{"field":"v","type":"quantitative","scale":{"domain":[-400,500],"nice":false,"zero":false},"axis":{"orient":"left","values":[-400,-200,0,200,400],"title":"Current in A","titlePadding":12,"grid":true}},
"color":{"field":"s","type":"nominal","scale":{"domain":["a","b","c","x","y","z"],"range":["#0000ff","#ff00ff","#00ffff","#0000ff","#ff00ff","#00ffff"]},"legend":null}}},
{"data":{"values":[{"t":0,"v":0}]},
"mark":{"type":"point","opacity":0},
"encoding":{
"x":{"field":"t","type":"quantitative","scale":{"domain":[0,1],"nice":false,"zero":false},"axis":{"orient":"top","values":[0,0.1,0.2,0.3,0.4,0.5,0.6,0.7,0.8,0.9,1],"labels":false,"title":null,"grid":false}},
"y":{"field":"v","type":"quantitative","scale":{"domain":[-400,500],"nice":false,"zero":false},"axis":{"orient":"right","values":[-400,-200,0,200,400],"labels":false,"title":null,"grid":false}}}}
]}
]
}
